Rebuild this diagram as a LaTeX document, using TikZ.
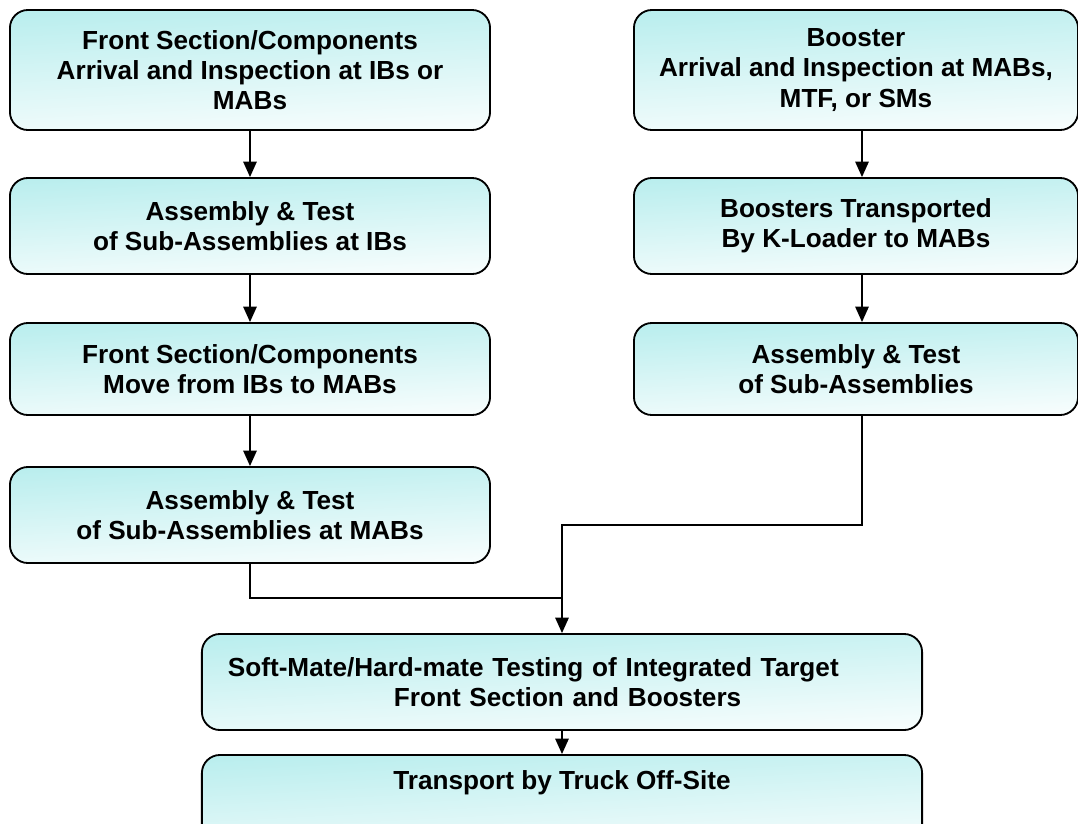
\documentclass[tikz,border=0pt]{standalone}
\usepackage{fontspec}
\setmainfont{Liberation Sans}
\usetikzlibrary{arrows.meta}

\definecolor{boxcyan}{RGB}{186,238,238}
\definecolor{boxpale}{RGB}{247,253,253}

\begin{document}
\begin{tikzpicture}[x=0.025cm, y=-0.025cm,
        stagebox/.style={rectangle, rounded corners=0.45cm, draw=black, line width=1.3pt,
            top color=boxcyan, bottom color=boxpale, shading angle=3,
            font=\fontsize{18.6}{21.5}\selectfont\bfseries, align=center, inner sep=0pt},
        conn/.style={line width=1.3pt, black},
        arr/.style={conn, -{Triangle[length=11pt, width=9.5pt]}},
        ]

      \useasboundingbox (0,0) rectangle (1078,823);

      % left column
      \node[stagebox, minimum width=12cm, minimum height=3cm] (fr1) at (250,70)
          {Front Section/Components\\Arrival and Inspection at IBs or\\MABs};
      \node[stagebox, minimum width=12cm, minimum height=2.4cm] (fr2) at (250,226)
          {Assembly \& Test\\of Sub-Assemblies at IBs};
      \node[stagebox, minimum width=12cm, minimum height=2.3cm] (fr3) at (250,369)
          {Front Section/Components\\Move from IBs to MABs};
      \node[stagebox, minimum width=12cm, minimum height=2.4cm] (fr4) at (250,515)
          {Assembly \& Test\\of Sub-Assemblies at MABs};

      % right column
      \node[stagebox, minimum width=11.1cm, minimum height=3cm] (bo1) at (856,70)
          {Booster\\Arrival and Inspection at MABs,\\MTF, or SMs};
      \node[stagebox, minimum width=11.1cm, minimum height=2.4cm] (bo2) at (856,226)
          {Boosters Transported\\By K-Loader to MABs};
      \node[stagebox, minimum width=11.1cm, minimum height=2.3cm] (bo3) at (856,369)
          {Assembly \& Test\\of Sub-Assemblies};

      % bottom
      \node[stagebox, minimum width=18cm, minimum height=2.4cm, align=left,
            text width=16.7cm, inner xsep=0.65cm] (mate) at (562,682)
          {Soft-Mate/Hard-mate Testing of Integrated Target\\\hspace*{4.15cm}Front Section and Boosters};
      \node[stagebox, minimum width=18cm, minimum height=2.4cm, text depth=32pt] (truck) at (562,803)
          {Transport by Truck Off-Site};

      \coordinate (jl) at (562,598);
      \coordinate (jr) at (562,525);

      \draw[arr] (fr1) -- (fr2);
      \draw[arr] (fr2) -- (fr3);
      \draw[arr] (fr3) -- (fr4);

      \draw[arr] ([xshift=0.15cm]bo1.south) -- ([xshift=0.15cm]bo2.north);
      \draw[arr] ([xshift=0.15cm]bo2.south) -- ([xshift=0.15cm]bo3.north);

      \draw[conn] (fr4.south) |- (jl);
      \draw[arr] ([xshift=0.15cm]bo3.south) |- (jr) -- (mate.north);
      \draw[arr] (mate) -- (truck);
    \end{tikzpicture}
\end{document}
